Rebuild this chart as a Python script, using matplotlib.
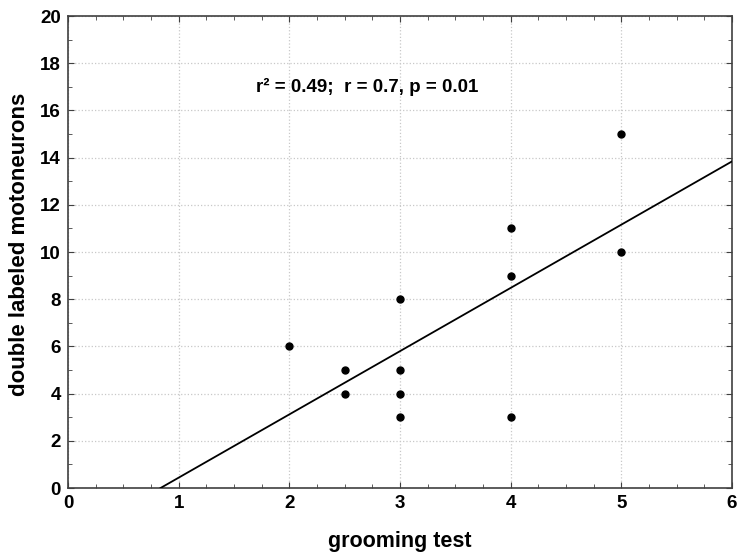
import numpy as np
import matplotlib
matplotlib.use("Agg")
import matplotlib.pyplot as plt
from matplotlib.ticker import MultipleLocator

plt.rcParams['font.family'] = ['Liberation Sans', 'DejaVu Sans']
plt.rcParams['font.weight'] = 'bold'

# data
grooming = [2, 2.5, 2.5, 3, 3, 3, 3, 4, 4, 4, 5, 5]
motoneurons = [6, 5, 4, 8, 5, 4, 3, 11, 9, 3, 15, 10]

x = np.array(grooming, dtype=float)
y = np.array(motoneurons, dtype=float)
slope, icpt = np.polyfit(x, y, 1)

fig = plt.figure(figsize=(7.37, 5.53), dpi=100)
ax = fig.add_axes([0.0923, 0.1175, 0.9009, 0.8535])

# regression line, clipped at y = 0
x0 = -icpt / slope
xl = np.array([x0, 6])
ax.plot(xl, slope * xl + icpt, color='black', lw=1.3, zorder=3)
ax.plot(x, y, 'o', color='black', ms=5, zorder=4)

ax.set_xlim(0, 6)
ax.set_ylim(0, 20)
ax.xaxis.set_major_locator(MultipleLocator(1))
ax.xaxis.set_minor_locator(MultipleLocator(0.25))
ax.yaxis.set_major_locator(MultipleLocator(2))
ax.yaxis.set_minor_locator(MultipleLocator(1))
ax.tick_params(which='both', direction='in', top=True, right=True,
               color='#404040')
ax.tick_params(which='major', length=4, labelsize=13.5, pad=5)
ax.tick_params(which='minor', length=3)
for lab in ax.get_xticklabels() + ax.get_yticklabels():
    lab.set_fontweight('bold')
for s in ax.spines.values():
    s.set_color('#404040')
    s.set_linewidth(1.2)
ax.grid(True, which='major', color='#c8c8c8', linestyle=':', lw=0.9)

ax.set_xlabel('grooming test', fontsize=15.5, fontweight='bold', labelpad=14)
ax.set_ylabel('double labeled motoneurons', fontsize=16, fontweight='bold')
ax.yaxis.set_label_coords(-0.057, 0.517)

ax.text(1.7, 17.0, 'r² = 0.49;  r = 0.7, p = 0.01', fontsize=13.5,
        fontweight='bold', va='center', ha='left')

fig.savefig('out.png', dpi=100)
